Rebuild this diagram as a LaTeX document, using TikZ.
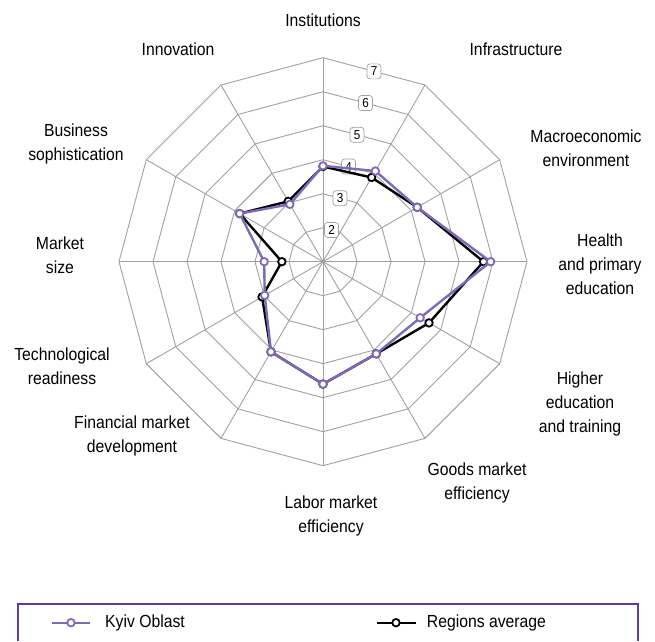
\documentclass[tikz,border=0pt]{standalone}
\usepackage{fontspec}
\setmainfont{Liberation Sans}[FakeStretch=0.9]
\definecolor{kyiv}{RGB}{125,106,182}
\definecolor{gridc}{RGB}{160,160,160}
\definecolor{legframe}{RGB}{90,62,160}
\begin{document}
\begin{tikzpicture}[x=1pt,y=1pt,
  gridline/.style={draw=gridc, line width=0.9pt},
  series/.style={line width=2.4pt, line join=round},
  mk/.style={circle, draw, fill=white, line width=1.8pt, inner sep=0pt, minimum size=7.5pt},
  catlabel/.style={align=center, font=\fontsize{17.5}{24}\selectfont, inner sep=0pt},
  ticklabel/.style={draw=gridc, fill=white, rounded corners=3pt, font=\fontsize{13}{13}\selectfont, inner sep=1.5pt, minimum width=14pt, minimum height=15pt, line width=0.7pt}]
\useasboundingbox (0,0) rectangle (655,641);
\begin{scope}[shift={(323,379.3)}]
  \coordinate (O) at (0,0);
  % rings
  \foreach \v in {2,...,7} {
    \draw[gridline] (90:{(\v-1)*34}) \foreach \k in {1,...,11} { -- ({90-30*\k}:{(\v-1)*34}) } -- cycle;
  }
  % spokes
  \foreach \k in {0,...,11} {
    \coordinate (s\k) at ({90-30*\k}:204);
    \draw[gridline] (O) -- (s\k);
  }
  % tick labels
  \foreach \v in {2,...,7} {
    \node[ticklabel] (t\v) at (75:{(\v-1)*34*cos(15)}) {\v};
  }
  % regions average (black)
  \foreach \v [count=\k from 0] in {3.80,3.86,4.20,5.72,4.60,4.13,4.60,4.06,3.07,2.21,3.83,3.05} {
    \coordinate (b\k) at ({90-30*\k}:{(\v-1)*34});
  }
  \draw[series, black] (b0) -- (b1) -- (b2) -- (b3) -- (b4) -- (b5) -- (b6) -- (b7) -- (b8) -- (b9) -- (b10) -- (b11) -- cycle;
  \foreach \k in {0,...,11} { \node[mk, draw=black] (bm\k) at (b\k) {}; }
  % Kyiv Oblast (purple)
  \foreach \v [count=\k from 0] in {3.82,4.08,4.20,5.93,4.30,4.13,4.60,4.06,2.98,2.73,3.83,2.95} {
    \coordinate (p\k) at ({90-30*\k}:{(\v-1)*34});
  }
  \draw[series, kyiv] (p0) -- (p1) -- (p2) -- (p3) -- (p4) -- (p5) -- (p6) -- (p7) -- (p8) -- (p9) -- (p10) -- (p11) -- cycle;
  \foreach \k in {0,...,11} { \node[mk, draw=kyiv] (pm\k) at (p\k) {}; }
\end{scope}
% category labels
\node[catlabel] (l0) at (323,621) {Institutions};
\node[catlabel] (l1) at (516,592) {Infrastructure};
\node[catlabel] (l2) at (586,492.3) {Macroeconomic\\environment};
\node[catlabel] (l3) at (600,376.7) {Health\\and primary\\education};
\node[catlabel] (l4) at (580,237.3) {Higher\\education\\and training};
\node[catlabel] (l5) at (477,158) {Goods market\\efficiency};
\node[catlabel] (l6) at (331,125.5) {Labor market\\efficiency};
\node[catlabel] (l7) at (132,205) {Financial market\\development};
\node[catlabel] (l8) at (62,275) {Technological\\readiness};
\node[catlabel] (l9) at (60,386) {Market\\size};
\node[catlabel] (l10) at (76,497) {Business\\sophistication};
\node[catlabel] (l11) at (178,592) {Innovation};
% legend
\draw[legframe, line width=2pt] (17.5,0) |- (638.3,37) -- (638.3,0);
\coordinate (ka) at (52,18.3);
\coordinate (kb) at (90,18.3);
\draw[kyiv, line width=2.4pt] (ka) -- (kb);
\node[mk, draw=kyiv] (km) at (71,18.3) {};
\node[catlabel, anchor=west] (kt) at (105,18.3) {Kyiv Oblast};
\coordinate (ra) at (377,18.3);
\coordinate (rb) at (415.7,18.3);
\draw[black, line width=2.4pt] (ra) -- (rb);
\node[mk, draw=black] (rm) at (396,18.3) {};
\node[catlabel, anchor=west] (rt) at (426.7,18.3) {Regions average};
\end{tikzpicture}
\end{document}
